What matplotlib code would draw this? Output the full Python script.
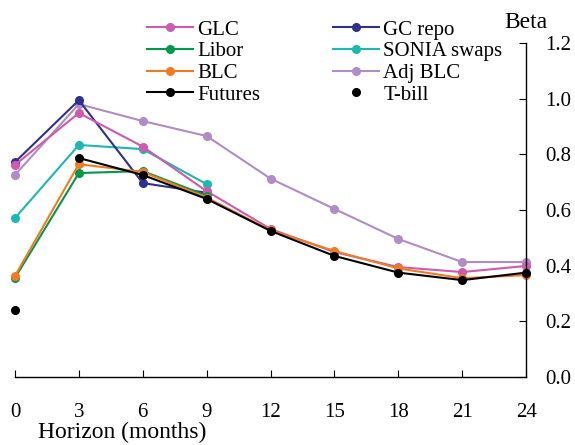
import matplotlib
matplotlib.use("Agg")
import matplotlib.pyplot as plt

horizon = [0, 3, 6, 9, 12, 15, 18, 21, 24]
glc = [0.762, 0.949, 0.828, 0.668, 0.532, 0.449, 0.395, 0.377, 0.399]
gc_repo = [0.772, 0.995, 0.697, 0.662]
libor = [0.356, 0.733, 0.740, 0.652]
sonia = [0.571, 0.834, 0.819, 0.693]
blc = [0.363, 0.765, 0.737, 0.645, 0.527, 0.453, 0.390, 0.355, 0.366]
adj_blc = [0.726, 0.981, 0.920, 0.866, 0.713, 0.604, 0.496, 0.413, 0.413]
futures_h = [3, 6, 9, 12, 15, 18, 21, 24]
futures = [0.787, 0.726, 0.640, 0.525, 0.435, 0.375, 0.348, 0.375]
tbill_h = [0]
tbill = [0.241]
xticks = [0, 3, 6, 9, 12, 15, 18, 21, 24]
yticks = [0.0, 0.2, 0.4, 0.6, 0.8, 1.0, 1.2]

plt.rcParams['font.family'] = ['Liberation Serif', 'DejaVu Serif']
fig = plt.figure(figsize=(5.75, 4.45), dpi=100)
ax = fig.add_axes([0.026, 0.153, 0.889, 0.750])

kw = dict(lw=1.5, marker='o', ms=5.5, clip_on=False)
h_adj, = ax.plot(horizon, adj_blc, color='#B08CC8', label='Adj BLC', **kw)
h_son, = ax.plot(horizon[:4], sonia, color='#1DB9B0', label='SONIA swaps', **kw)
h_gc, = ax.plot(horizon[:4], gc_repo, color='#2E3192', label='GC repo', **kw)
h_glc, = ax.plot(horizon, glc, color='#D05BAE', label='GLC', **kw)
h_lib, = ax.plot(horizon[:4], libor, color='#00994C', label='Libor', **kw)
h_blc, = ax.plot(horizon, blc, color='#F47A20', label='BLC', **kw)
h_fut, = ax.plot(futures_h, futures, color='black', label='Futures', **kw)
h_tb, = ax.plot(tbill_h, tbill, color='black', ls='none', marker='o', ms=5.5,
                clip_on=False, label='T-bill')

ax.set_xlim(0, 24)
ax.set_ylim(0, 1.2)
for s in ['top', 'left']:
    ax.spines[s].set_visible(False)
ax.spines['bottom'].set_linewidth(1.0)
ax.spines['right'].set_linewidth(1.0)
ax.yaxis.tick_right()
ax.set_xticks(xticks)
ax.set_xticklabels([str(x) for x in xticks])
ax.set_yticks(yticks)
ax.set_yticklabels([f"{y:.1f}" for y in yticks])
ax.tick_params(axis='x', direction='in', length=5, labelsize=15, pad=19)
ax.tick_params(axis='y', direction='in', length=5, labelsize=15, pad=14)

fig.text(0.066, 1 - 438 / 445, 'Horizon (months)', fontsize=17,
         ha='left', va='baseline')
fig.text(0.877, 0.925, 'Beta', fontsize=17, ha='left', va='bottom')

handles = [h_glc, h_lib, h_blc, h_fut, h_gc, h_son, h_adj, h_tb]
leg = ax.legend(handles=handles, labels=[h.get_label() for h in handles],
                ncol=2, frameon=False, fontsize=15, loc='upper left',
                bbox_to_anchor=(0.243, 1.094), handlelength=2.2,
                handletextpad=0.2, columnspacing=3.5, labelspacing=0.1,
                borderaxespad=0)

fig.savefig('out.png', dpi=100)
